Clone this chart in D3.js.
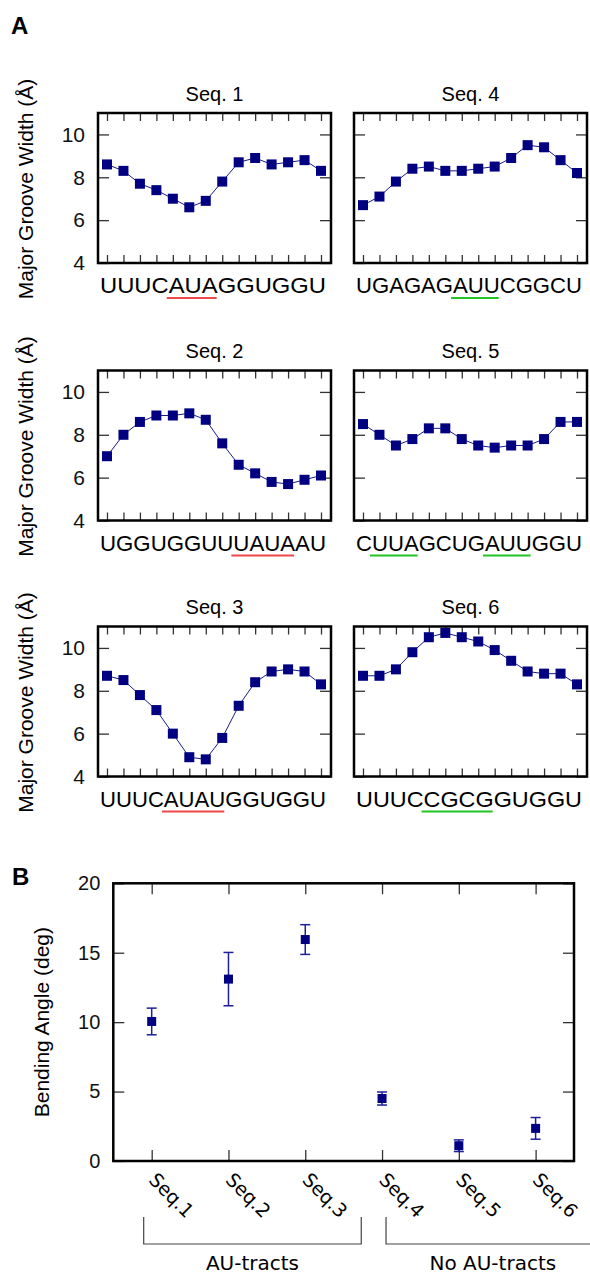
<!DOCTYPE html>
<html>
<head>
<meta charset="utf-8">
<script src="https://cdn.jsdelivr.net/npm/d3@7"></script>
<style>body{margin:0;background:#fff}</style>
</head>
<body>
<script>
// panel A: major groove width per step
var seq1Width = [8.6, 8.3, 7.7, 7.4, 7.0, 6.6, 6.9, 7.8, 8.7, 8.9, 8.6, 8.7, 8.8, 8.3];
var seq2Width = [7.0, 8.0, 8.6, 8.9, 8.9, 9.0, 8.7, 7.6, 6.6, 6.2, 5.8, 5.7, 5.9, 6.1];
var seq3Width = [8.7, 8.5, 7.8, 7.1, 6.0, 4.9, 4.8, 5.8, 7.3, 8.4, 8.9, 9.0, 8.9, 8.3];
var seq4Width = [6.7, 7.1, 7.8, 8.4, 8.5, 8.3, 8.3, 8.4, 8.5, 8.9, 9.5, 9.4, 8.8, 8.2];
var seq5Width = [8.5, 8.0, 7.5, 7.8, 8.3, 8.3, 7.8, 7.5, 7.4, 7.5, 7.5, 7.8, 8.6, 8.6];
var seq6Width = [8.7, 8.7, 9.0, 9.8, 10.5, 10.7, 10.5, 10.3, 9.9, 9.4, 8.9, 8.8, 8.8, 8.3];

var seqTitles = ['Seq. 1', 'Seq. 2', 'Seq. 3', 'Seq. 4', 'Seq. 5', 'Seq. 6'];
var seqLetters = ['UUUCAUAGGUGGU', 'UGGUGGUUUAUAAU', 'UUUCAUAUGGUGGU',
                  'UGAGAGAUUCGGCU', 'CUUAGCUGAUUGGU', 'UUUCCGCGGUGGU'];
// underlined letters (first, last index)
var seqTracts = [[[4, 6]], [[8, 11]], [[4, 7]], [[6, 8]], [[1, 3], [8, 10]], [[4, 7]]];
var widthTicks = [4, 6, 8, 10];

// panel B: bending angle
var bendLabels = ['Seq.1', 'Seq.2', 'Seq.3', 'Seq.4', 'Seq.5', 'Seq.6'];
var bendAngle = [10.05, 13.1, 15.95, 4.5, 1.1, 2.35];
var bendErr = [0.96, 1.92, 1.07, 0.47, 0.42, 0.78];
var angleTicks = [0, 5, 10, 15, 20];
var groupLabels = ['AU-tracts', 'No AU-tracts'];
var groupFirst = ['Seq.1', 'Seq.4'];
var groupLast = ['Seq.3', 'Seq.6'];

var navy = '#000080';
var sans = '"Liberation Sans", Arial, Helvetica, sans-serif';
var verd = '"DejaVu Sans", Verdana, sans-serif';

var svg = d3.select('body').append('svg')
    .attr('width', 590)
    .attr('height', 1275)
    .style('font-family', sans);

svg.append('text')
    .attr('x', 11).attr('y', 34)
    .attr('font-size', 24).attr('font-weight', 'bold')
    .text('A');

var widths = [seq1Width, seq2Width, seq3Width, seq4Width, seq5Width, seq6Width];
var panelW = 233, panelH = 150;
var colX = [98, 354], rowY = [113, 370.5, 626.5];

// hidden text for measuring letter positions
var measure = svg.append('text').attr('font-size', 22).attr('x', -1000).attr('y', -1000);
function prefixLen(str, n) {
    if (n == 0) return 0;
    measure.text(str.slice(0, n));
    return measure.node().getComputedTextLength();
}

widths.forEach(function(vals, k) {
    var col = k < 3 ? 0 : 1, row = k % 3;
    var g = svg.append('g')
        .attr('transform', 'translate(' + colX[col] + ',' + rowY[row] + ')');

    var x = d3.scalePoint().domain(d3.range(vals.length)).range([9, panelW - 10]);
    var y = d3.scaleLinear().domain([4, 11]).range([panelH, 0]);

    var left = d3.axisLeft(y).tickValues(widthTicks).tickSize(-11).tickSizeOuter(0)
        .tickPadding(13).tickFormat(d3.format('d'));
    if (col == 1) left.tickFormat('');
    g.append('g').call(left)
        .attr('font-size', 21).attr('font-family', sans).style('color', '#333');
    g.append('g').attr('transform', 'translate(' + panelW + ',0)')
        .call(d3.axisRight(y).tickValues(widthTicks).tickSize(-11).tickSizeOuter(0).tickFormat(''))
        .style('color', '#333');
    g.append('g')
        .call(d3.axisTop(x).tickSize(-8).tickSizeOuter(0).tickFormat(''))
        .style('color', '#333');
    g.append('g').attr('transform', 'translate(0,' + panelH + ')')
        .call(d3.axisBottom(x).tickSize(-8).tickSizeOuter(0).tickFormat(''))
        .style('color', '#333');
    g.selectAll('.domain').remove();
    g.selectAll('.tick line').attr('stroke-width', 1.3);
    g.selectAll('.tick text').attr('fill', '#111');

    g.append('rect')
        .attr('width', panelW).attr('height', panelH)
        .attr('fill', 'none').attr('stroke', 'black').attr('stroke-width', 2.5);

    g.append('path')
        .datum(vals)
        .attr('fill', 'none').attr('stroke', '#1a1a8a').attr('stroke-width', 1)
        .attr('d', d3.line().x(function(d, i) { return x(i); }).y(function(d) { return y(d); }));

    g.selectAll('rect.pt').data(vals).enter().append('rect')
        .attr('class', 'pt')
        .attr('x', function(d, i) { return x(i) - 5; })
        .attr('y', function(d) { return y(d) - 5; })
        .attr('width', 10).attr('height', 10)
        .attr('fill', navy);

    g.append('text')
        .attr('x', panelW / 2).attr('y', -12.5)
        .attr('text-anchor', 'middle').attr('font-size', 20)
        .text(seqTitles[k]);

    // sequence letters stretched over the panel width
    var str = seqLetters[k];
    var span = panelW - 7;
    g.append('text')
        .attr('x', 2).attr('y', panelH + 30)
        .attr('font-size', 22)
        .attr('textLength', span).attr('lengthAdjust', 'spacingAndGlyphs')
        .text(str);
    var s = span / prefixLen(str, str.length);
    seqTracts[k].forEach(function(t) {
        g.append('line')
            .attr('x1', 2 + prefixLen(str, t[0]) * s - 2)
            .attr('x2', 2 + prefixLen(str, t[1] + 1) * s - 1)
            .attr('y1', panelH + 35).attr('y2', panelH + 35)
            .attr('stroke', col == 0 ? '#f04848' : '#22c622')
            .attr('stroke-width', 2);
    });

    if (col == 0) {
        svg.append('text')
            .attr('transform', 'translate(33,' + (rowY[row] + panelH / 2 + 1) + ') rotate(-90)')
            .attr('text-anchor', 'middle').attr('font-size', 21)
            .text('Major Groove Width (\u00C5)');
    }
});
measure.remove();

// ---- panel B ----
svg.append('text')
    .attr('x', 12).attr('y', 885)
    .attr('font-size', 24).attr('font-weight', 'bold')
    .text('B');

var bL = 113.3, bT = 883.3, bW = 460.7, bH = 277.7;
var gb = svg.append('g').attr('transform', 'translate(' + bL + ',' + bT + ')');
var xb = d3.scalePoint().domain(bendLabels).range([0, bW]).padding(0.5);
var yb = d3.scaleLinear().domain([0, 20]).range([bH, 0]);

gb.append('g')
    .call(d3.axisLeft(yb).tickValues(angleTicks).tickSize(-11).tickSizeOuter(0)
        .tickPadding(13).tickFormat(d3.format('d')))
    .attr('font-size', 20).attr('font-family', sans).style('color', '#333');
gb.append('g').attr('transform', 'translate(' + bW + ',0)')
    .call(d3.axisRight(yb).tickValues(angleTicks).tickSize(-11).tickSizeOuter(0).tickFormat(''))
    .style('color', '#333');
gb.append('g')
    .call(d3.axisTop(xb).tickSize(-11).tickSizeOuter(0).tickFormat(''))
    .style('color', '#333');
gb.append('g').attr('transform', 'translate(0,' + bH + ')')
    .call(d3.axisBottom(xb).tickSize(-11).tickSizeOuter(0).tickFormat(''))
    .style('color', '#333');
gb.selectAll('.domain').remove();
gb.selectAll('.tick line').attr('stroke-width', 1.3);
gb.selectAll('.tick text').attr('fill', '#111');

gb.append('rect')
    .attr('width', bW).attr('height', bH)
    .attr('fill', 'none').attr('stroke', 'black').attr('stroke-width', 2.5);

var bars = gb.selectAll('g.bar').data(bendLabels).enter().append('g').attr('class', 'bar');
bars.append('line')
    .attr('x1', function(d) { return xb(d); }).attr('x2', function(d) { return xb(d); })
    .attr('y1', function(d, i) { return yb(bendAngle[i] - bendErr[i]); })
    .attr('y2', function(d, i) { return yb(bendAngle[i] + bendErr[i]); })
    .attr('stroke', '#1f1f9a').attr('stroke-width', 1.5);
[-1, 1].forEach(function(sg) {
    bars.append('line')
        .attr('x1', function(d) { return xb(d) - 5; }).attr('x2', function(d) { return xb(d) + 5; })
        .attr('y1', function(d, i) { return yb(bendAngle[i] + sg * bendErr[i]); })
        .attr('y2', function(d, i) { return yb(bendAngle[i] + sg * bendErr[i]); })
        .attr('stroke', '#1f1f9a').attr('stroke-width', 1.5);
});
bars.append('rect')
    .attr('x', function(d) { return xb(d) - 4.5; })
    .attr('y', function(d, i) { return yb(bendAngle[i]) - 4.5; })
    .attr('width', 9).attr('height', 9)
    .attr('fill', navy);

gb.selectAll('text.xl').data(bendLabels).enter().append('text')
    .attr('class', 'xl')
    .attr('transform', function(d) { return 'translate(' + (xb(d) - 4) + ',' + (bH + 20) + ') rotate(45)'; })
    .attr('font-family', verd).attr('font-size', 19)
    .text(function(d) { return d; });

svg.append('text')
    .attr('transform', 'translate(49,' + (bT + bH / 2) + ') rotate(-90)')
    .attr('text-anchor', 'middle').attr('font-size', 21)
    .text('Bending Angle (deg)');

// group brackets under the axis
groupLabels.forEach(function(lab, i) {
    var x1 = xb(groupFirst[i]) + (i == 0 ? -8 : 4);
    var x2 = xb(groupLast[i]) + (i == 0 ? 56 : 64);
    var y1 = bH + 56, y2 = bH + 83;
    gb.append('path')
        .attr('d', 'M' + x1 + ',' + y1 + 'V' + y2 + 'H' + x2 + 'V' + y1)
        .attr('fill', 'none').attr('stroke', '#444').attr('stroke-width', 1.2);
    gb.append('text')
        .attr('x', (x1 + x2) / 2).attr('y', bH + 109)
        .attr('text-anchor', 'middle')
        .attr('font-family', verd).attr('font-size', 20)
        .text(lab);
});
</script>
</body>
</html>
